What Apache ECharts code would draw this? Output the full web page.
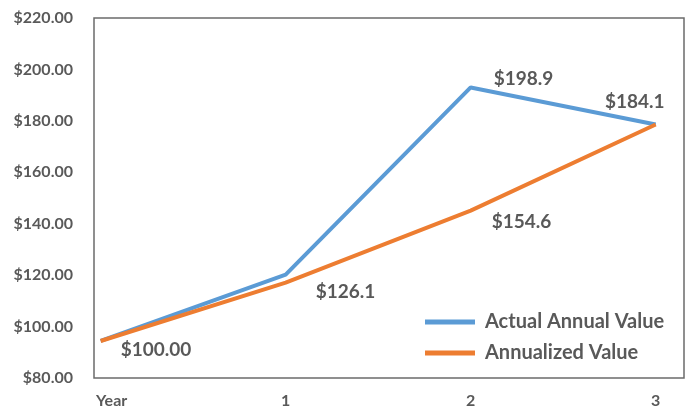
<!DOCTYPE html>
<html>
<head>
<meta charset="utf-8">
<script src="https://cdn.jsdelivr.net/npm/echarts@6/dist/echarts.min.js"></script>
<style>html,body{margin:0;padding:0;background:#fff}#c{width:689px;height:412px}</style>
</head>
<body>
<div id="c"></div>
<script>
var categories = ['Year', '1', '2', '3'];
var actualValues = [94.4, 120.2, 193.0, 178.6];
var annualizedValues = [94.4, 117.1, 145.1, 178.6];
var actualLabels = ['', '', '$198.9', '$184.1'];
var annualizedLabels = ['$100.00', '$126.1', '$154.6', ''];
var yTicks = [80, 100, 120, 140, 160, 180, 200, 220];

var textColor = '#595959';
var font = 'Lato';
var lblStyle = { color: textColor, fontFamily: font, fontSize: 19, fontWeight: 'bold' };

function toData(vals, labels, labelCfg) {
  return vals.map(function (v, i) {
    var d = { value: [i, v] };
    if (labels[i]) {
      d.label = Object.assign({ show: true, formatter: labels[i] }, lblStyle, labelCfg[i]);
    } else {
      d.label = { show: false };
    }
    return d;
  });
}

var chart = echarts.init(document.getElementById('c'), null, { renderer: 'canvas' });
chart.setOption({
  animation: false,
  grid: { left: 94, right: 5, top: 18, bottom: 34, show: true, borderColor: '#6b6b6b', borderWidth: 1.5, containLabel: false },
  xAxis: {
    type: 'value', min: -0.036, max: 3.153,
    axisLine: { show: false }, axisTick: { show: false }, splitLine: { show: false },
    axisLabel: {
      customValues: [0, 1, 2, 3],
      color: textColor, fontFamily: font, fontWeight: 'bold', fontSize: 16, margin: 15,
      formatter: function (v) { var i = Math.round(v); return i === 0 ? '{y|' + categories[0] + '}' : categories[i]; },
      rich: { y: { color: textColor, fontFamily: font, fontWeight: 'bold', fontSize: 16, padding: [0, 0, 0, 22] } }
    }
  },
  yAxis: {
    type: 'value', min: yTicks[0], max: yTicks[yTicks.length - 1], interval: 20,
    axisLine: { show: false }, axisTick: { show: false }, splitLine: { show: false },
    axisLabel: {
      color: textColor, fontFamily: font, fontWeight: 'bold', fontSize: 16, margin: 21,
      formatter: function (v) { return '$' + v.toFixed(2); }
    }
  },
  legend: {
    orient: 'vertical', left: 420, top: 307, itemWidth: 50, itemHeight: 5, itemGap: 11,
    icon: 'rect',
    textStyle: { color: textColor, fontFamily: font, fontSize: 20, fontWeight: 'bold', padding: [0, 0, 0, 5] },
    data: [
      { name: 'Actual Annual Value', itemStyle: { color: '#5B9BD5', opacity: 1 } },
      { name: 'Annualized Value', itemStyle: { color: '#ED7D31', opacity: 1 } }
    ]
  },
  series: [
    {
      name: 'Actual Annual Value', type: 'line', showSymbol: true, symbol: 'circle', symbolSize: 0,
      lineStyle: { color: '#5B9BD5', width: 4 }, itemStyle: { color: '#5B9BD5' },
      label: { show: false },
      data: toData(actualValues, actualLabels, [null, null,
        { position: 'right', offset: [18, -9] },
        { position: 'top', offset: [-21, -8] }])
    },
    {
      name: 'Annualized Value', type: 'line', showSymbol: true, symbol: 'circle', symbolSize: 0, z: 3,
      lineStyle: { color: '#ED7D31', width: 4 }, itemStyle: { color: '#ED7D31' },
      label: { show: false },
      data: toData(annualizedValues, annualizedLabels, [
        { position: 'right', offset: [15, 9] },
        { position: 'right', offset: [25, 9] },
        { position: 'right', offset: [16, 11] },
        null])
    }
  ]
});
</script>
</body>
</html>
